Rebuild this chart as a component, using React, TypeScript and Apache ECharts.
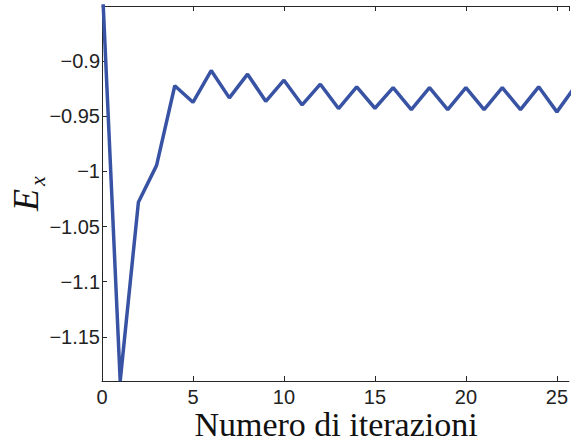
import React, { useEffect, useRef } from "react";
import * as echarts from "echarts";

const iterations = [0, 1, 2, 3, 4, 5, 6, 7, 8, 9, 10, 11, 12, 13, 14, 15, 16, 17, 18, 19, 20, 21, 22, 23, 24, 25, 26];
const energy = [
  -0.825, -1.19, -1.028, -0.9945, -0.9223, -0.9373, -0.9085, -0.9333, -0.9118, -0.9364,
  -0.9173, -0.9397, -0.9209, -0.943, -0.9233, -0.9427, -0.924, -0.944, -0.924, -0.944,
  -0.924, -0.944, -0.924, -0.944, -0.9233, -0.946, -0.923,
];
const yTicks = [-1.15, -1.1, -1.05, -1, -0.95, -0.9];
const xLabel = "Numero di iterazioni";
const yLabelMain = "E";
const yLabelSub = "x";

const axisColor = "#262626";
const fmt = (v: number) => String(v).replace("-", "\u2212");

export default function App() {
  const ref = useRef<HTMLDivElement>(null);
  useEffect(() => {
    if (!ref.current) return;
    const chart = echarts.init(ref.current, null, { renderer: "svg" });
    const commonX = {
      type: "value" as const,
      min: 0,
      max: 25.66,
      interval: 5,
      splitLine: { show: false },
      axisLine: { show: true, onZero: false, lineStyle: { color: axisColor, width: 1 } },
      axisTick: { show: true, inside: true, length: 5, lineStyle: { color: axisColor } },
    };
    chart.setOption({
      animation: false,
      grid: { left: 102, top: 6, bottom: 62, right: 0, containLabel: false },
      xAxis: [
        {
          ...commonX,
          position: "bottom",
          axisLabel: {
            show: true,
            margin: 6,
            fontFamily: "Liberation Sans",
            fontSize: 20,
            color: "#222",
            showMaxLabel: false,
            formatter: (v: number) => (v <= 25 ? fmt(v) : ""),
          },
        },
        {
          ...commonX,
          position: "top",
          axisLabel: { show: false },
        },
      ],
      yAxis: {
        type: "value",
        min: -1.19,
        max: -0.85,
        splitLine: { show: false },
        axisLine: { show: true, onZero: false, lineStyle: { color: axisColor, width: 1 } },
        axisTick: { show: true, inside: true, length: 5, customValues: yTicks, lineStyle: { color: axisColor } },
        axisLabel: {
          show: true,
          margin: 2,
          customValues: yTicks,
          fontFamily: "Liberation Sans",
          fontSize: 20,
          color: "#222",
          formatter: (v: number) => fmt(v),
        },
      },
      series: [
        {
          type: "line",
          xAxisIndex: 0,
          data: iterations.map((x, i) => [x, energy[i]]),
          showSymbol: false,
          symbol: "none",
          clip: true,
          lineStyle: { color: "#3953a4", width: 3.5 },
        },
      ],
      graphic: [
        {
          type: "text",
          x: 336,
          y: 424.5,
          style: {
            text: xLabel,
            fontFamily: "Liberation Serif",
            fontSize: 34,
            lineHeight: 30,
            fill: "#111",
            align: "center",
            verticalAlign: "middle",
          },
        },
        {
          type: "text",
          x: 26,
          y: 200,
          rotation: Math.PI / 2,
          style: {
            text: yLabelMain,
            fontFamily: "Liberation Serif",
            fontStyle: "italic",
            fontSize: 36,
            fill: "#111",
            align: "center",
            verticalAlign: "middle",
          },
        },
        {
          type: "text",
          x: 37,
          y: 181,
          rotation: Math.PI / 2,
          style: {
            text: yLabelSub,
            fontFamily: "Liberation Serif",
            fontStyle: "italic",
            fontSize: 22,
            fill: "#111",
            align: "center",
            verticalAlign: "middle",
          },
        },
      ],
    });
    return () => chart.dispose();
  }, []);
  return (
    <div
      ref={ref}
      style={{ position: "absolute", left: 0, top: 0, width: 571, height: 443, background: "#fff" }}
    />
  );
}
